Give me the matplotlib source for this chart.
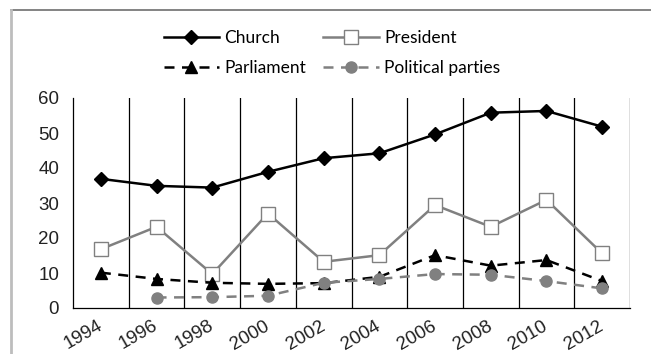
import numpy as np
import matplotlib.pyplot as plt
from matplotlib.lines import Line2D

years = ["1994", "1996", "1998", "2000", "2002", "2004", "2006", "2008", "2010", "2012"]
church = [36.9, 34.9, 34.4, 38.9, 42.8, 44.2, 49.6, 55.8, 56.3, 51.8]
president = [16.8, 23.2, 9.7, 27.0, 13.2, 15.1, 29.4, 23.2, 30.9, 15.6]
parliament = [10.1, 8.3, 7.2, 6.9, 7.1, 8.9, 15.1, 12.1, 13.7, 7.7]
parties = [np.nan, 3.0, 3.1, 3.5, 7.2, 8.3, 9.7, 9.5, 7.7, 5.6]

plt.rcParams["font.family"] = ["Liberation Sans", "DejaVu Sans"]

GRAY = "#808080"
W, H = 651, 354

fig = plt.figure(figsize=(W / 100, H / 100), dpi=100)
ax = fig.add_axes([73 / W, 1 - 308 / H, (630 - 73) / W, (308 - 98) / H])

x = np.arange(len(years))

# category boundaries drawn as vertical lines
for b in np.arange(0.5, len(years), 1.0):
    ax.axvline(b, color="black", lw=0.9, zorder=1)

h_church, = ax.plot(x, church, color="black", lw=1.8, marker="D", ms=7.5,
                    mfc="black", mec="black", label="Church", zorder=3)
h_pres, = ax.plot(x, president, color=GRAY, lw=1.8, marker="s", ms=9.5,
                  mfc="white", mec=GRAY, mew=1.0, label="President", zorder=3)
h_parl, = ax.plot(x, parliament, color="black", lw=1.8, ls=(0, (4, 3)),
                  marker="^", ms=9, mfc="black", mec="black",
                  label="Parliament", zorder=4)
h_part, = ax.plot(x, parties, color=GRAY, lw=1.8, ls=(0, (4, 3)), marker="o",
                  ms=8, mfc=GRAY, mec=GRAY, label="Political parties", zorder=5)

ax.set_xlim(-0.5, len(years) - 0.5)
ax.set_ylim(0, 60)
ax.set_yticks(range(0, 61, 10))
ax.set_xticks(x)
ax.set_xticklabels(years, rotation=30, ha="right", va="center",
                   rotation_mode="anchor")
ax.tick_params(axis="both", labelsize=13.5, labelcolor="#222222", length=0)
ax.tick_params(axis="y", pad=10)
ax.tick_params(axis="x", pad=12)

for side in ("top", "right"):
    ax.spines[side].set_visible(False)
ax.spines["left"].set_linewidth(0.9)
ax.spines["bottom"].set_linewidth(0.9)

# row-major order: Church, President / Parliament, Political parties
fig.legend([h_church, h_parl, h_pres, h_part],
           ["Church", "Parliament", "President", "Political parties"],
           loc="center", bbox_to_anchor=(332 / W, 1 - 53 / H), ncol=2,
           frameon=False, prop={"family": "Lato", "size": 12.5},
           handlelength=3.2, handletextpad=0.3, columnspacing=1.0,
           labelspacing=0.85)

# outer chart frame (top and left edges)
fig.add_artist(Line2D([11 / W, 1], [1 - 10 / H, 1 - 10 / H], color="#6e6e6e", lw=1.2))
fig.add_artist(Line2D([11 / W, 11 / W], [0, 1 - 10 / H], color="#bdbdbd", lw=2.0))

fig.savefig("out.png", dpi=100)
